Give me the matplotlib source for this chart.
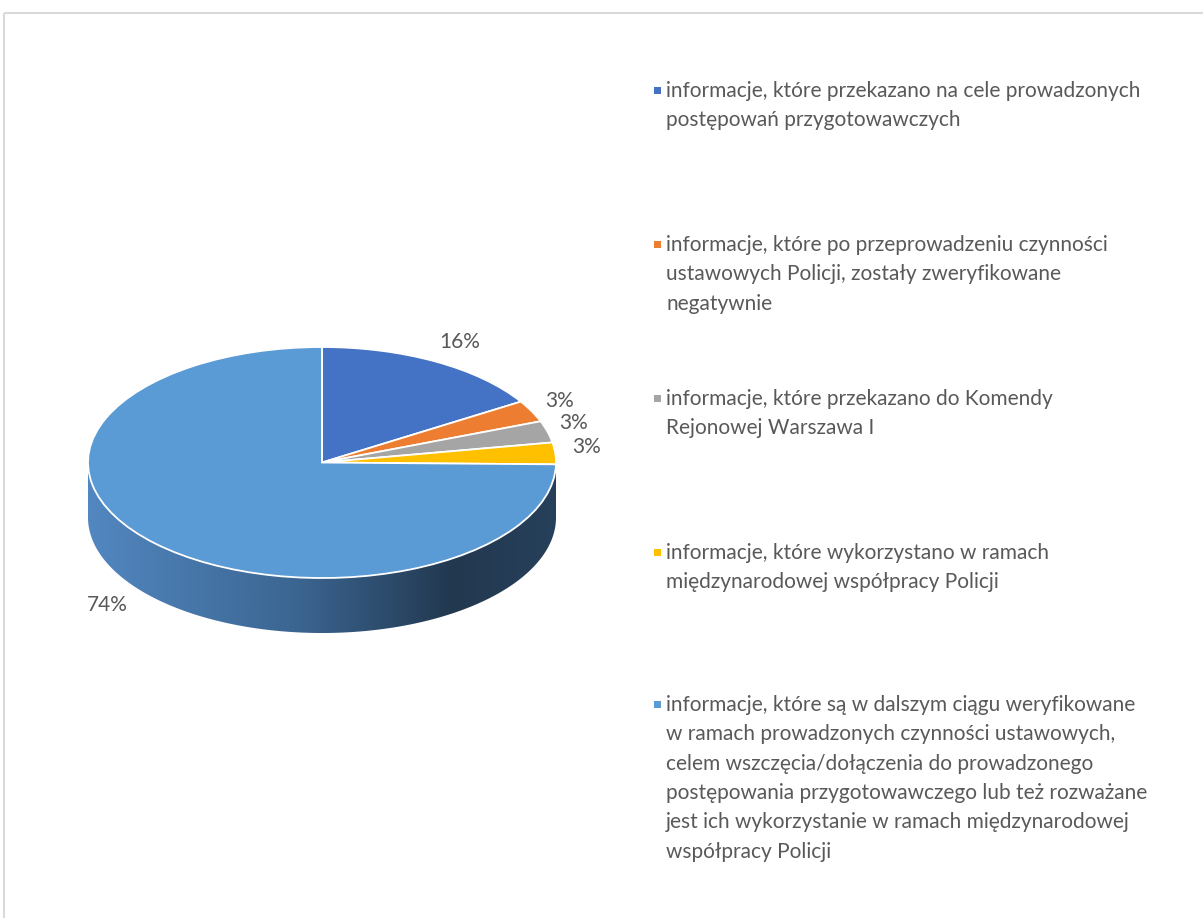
import numpy as np
import matplotlib
matplotlib.use('Agg')
from matplotlib import pyplot as plt
from matplotlib.patches import Rectangle, Polygon
from matplotlib.colors import LinearSegmentedColormap

# shares of the collected information, in percent
values = [16, 3, 3, 3, 74]
colors = ['#4472C4', '#ED7D31', '#A5A5A5', '#FFC000', '#5B9BD5']
legend_lines = [
    ['informacje, które przekazano na cele prowadzonych',
     'postępowań przygotowawczych'],
    ['informacje, które po przeprowadzeniu czynności',
     'ustawowych Policji, zostały zweryfikowane',
     'negatywnie'],
    ['informacje, które przekazano do Komendy',
     'Rejonowej Warszawa I'],
    ['informacje, które wykorzystano w ramach',
     'międzynarodowej współpracy Policji'],
    ['informacje, które są w dalszym ciągu weryfikowane',
     'w ramach prowadzonych czynności ustawowych,',
     'celem wszczęcia/dołączenia do prowadzonego',
     'postępowania przygotowawczego lub też rozważane',
     'jest ich wykorzystanie w ramach międzynarodowej',
     'współpracy Policji'],
]

W, H = 1203, 918
text_color = '#595959'
font = ['Lato', 'DejaVu Sans']
fs = 15

fig = plt.figure(figsize=(W / 100, H / 100), dpi=100)

# background layer in pixel units: frame, legend, percentage labels
bg = fig.add_axes([0, 0, 1, 1])
bg.set_xlim(0, W)
bg.set_ylim(H, 0)
bg.axis('off')
bg.add_patch(Rectangle((4, 13), W + 20, H + 20, fill=False,
                       edgecolor='#d9d9d9', linewidth=1.5))

# pie: top face radius 1 in x, ellipse squashed through axes aspect
depth = 0.476
pie_box = [88 / W, (H - 633) / H, 468 / W, 286 / H]
ax = fig.add_axes(pie_box)
wedges, _ = ax.pie(values, colors=colors, startangle=90, counterclock=False,
                   wedgeprops=dict(edgecolor='white', linewidth=1.3))
for w in wedges:
    w.set_zorder(3)
ax.set_aspect('auto')
ax.set_xlim(-1, 1)
ax.set_ylim(-1 - depth, 1)
ax.axis('off')

# side of the disc (front half), shaded left to right
th = np.linspace(np.pi, 2 * np.pi, 300)
top = np.column_stack([np.cos(th), np.sin(th)])
bot = np.column_stack([np.cos(th[::-1]), np.sin(th[::-1]) - depth])
side = Polygon(np.vstack([top, bot]), closed=True, facecolor='none',
               edgecolor='none')
ax.add_patch(side)
side_cmap = LinearSegmentedColormap.from_list(
    'side', [(0, '#5287c0'), (0.45, '#3b6591'), (0.78, '#22384f'), (1, '#27405b')])
grad = np.linspace(0, 1, 256).reshape(1, -1)
im = ax.imshow(grad, cmap=side_cmap, extent=(-1, 1, -1 - depth, 0),
               aspect='auto', zorder=1, interpolation='bilinear')
im.set_clip_path(side)
ax.set_xlim(-1, 1)
ax.set_ylim(-1 - depth, 1)

# percentage labels
label_pos = [(439, 348), (545, 407), (559, 429), (572, 453), (87, 611)]
for v, (x, y) in zip(values, label_pos):
    bg.text(x, y, f'{v}%', fontsize=fs, color=text_color, family=font,
            ha='left', va='baseline')

# legend
entry_base = [97, 251, 405, 559, 711]
line_step = 29.3
for c, lines, y0 in zip(colors, legend_lines, entry_base):
    bg.add_patch(Rectangle((654, y0 - 10), 6.5, 6.5, facecolor=c, edgecolor='none'))
    for i, s in enumerate(lines):
        bg.text(666, y0 + i * line_step, s, fontsize=fs, color=text_color,
                family=font, ha='left', va='baseline')

fig.savefig('out.png', dpi=100)
